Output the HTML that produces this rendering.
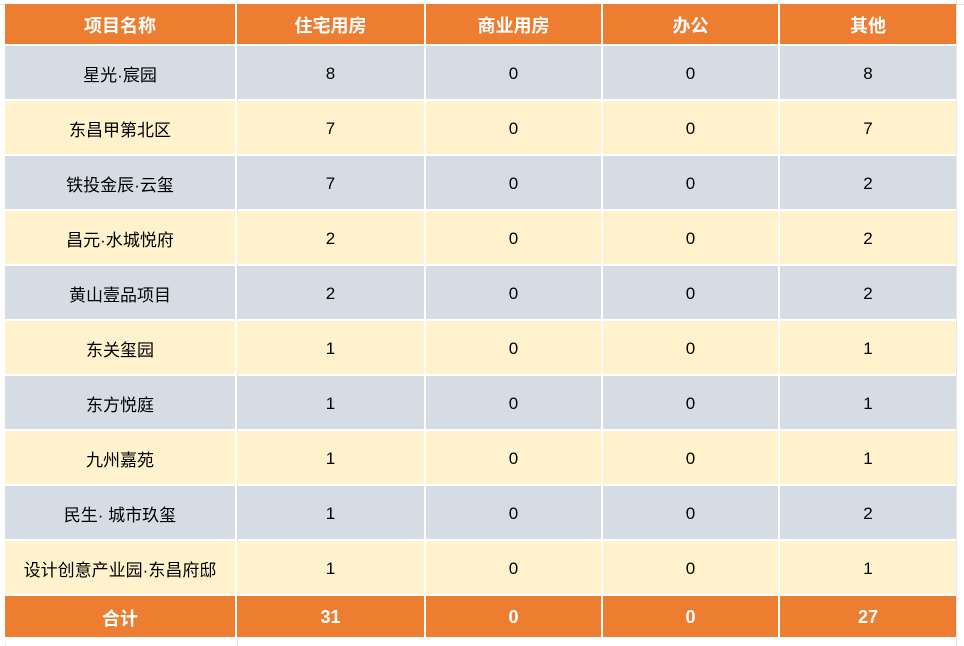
<!DOCTYPE html>
<html><head><meta charset="utf-8"><style>
body{margin:0;width:964px;height:646px;background:#fff;overflow:hidden;font-family:"Liberation Sans","Noto Sans CJK SC",sans-serif;position:relative}
.c{position:absolute;display:flex;align-items:center;justify-content:center;font-size:17px;color:#000;box-sizing:border-box;padding-top:2px}
.h{background:#ED7D31;color:#fff;font-weight:bold;font-size:18px}
.g{background:#D6DCE4}.y{background:#FFF2CC}
.gl{position:absolute;background:#e6e6e6}
</style></head><body>
<div class="gl" style="left:0;top:4px;width:964px;height:1px"></div>
<div class="gl" style="left:5px;top:642px;width:1px;height:4px"></div>
<div class="gl" style="left:237px;top:0;width:1px;height:646px"></div>
<div class="gl" style="left:956px;top:0;width:1px;height:646px"></div>
<div id="t"></div>
<script>
var xs=[5,237,426,603,780,956],ys=[4,46,101,156,211,266,321,376,431,486,541,596,639];
var rows=[["项目名称","住宅用房","商业用房","办公","其他"],
["星光·宸园","8","0","0","8"],["东昌甲第北区","7","0","0","7"],["铁投金辰·云玺","7","0","0","2"],
["昌元·水城悦府","2","0","0","2"],["黄山壹品项目","2","0","0","2"],["东关玺园","1","0","0","1"],
["东方悦庭","1","0","0","1"],["九州嘉苑","1","0","0","1"],["民生· 城市玖玺","1","0","0","2"],
["设计创意产业园·东昌府邸","1","0","0","1"],["合计","31","0","0","27"]];
var h="";
for(var r=0;r<rows.length;r++){var cls=(r==0||r==11)?"h":(r%2?"g":"y");
for(var c=0;c<5;c++){h+='<div class="c '+cls+'" style="left:'+xs[c]+'px;top:'+ys[r]+'px;width:'+(xs[c+1]-xs[c]-(c<4?2:0))+'px;height:'+(ys[r+1]-ys[r]-2)+'px">'+rows[r][c]+'</div>';}}
document.getElementById("t").innerHTML=h;
</script>
</body></html>
